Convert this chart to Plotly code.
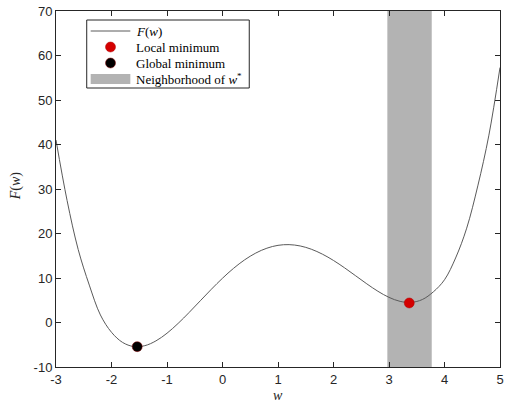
import plotly.graph_objects as go

# Sampled objective F(w) on a uniform grid
w_grid = [-3.0, -2.8, -2.6, -2.4, -2.2, -2.0, -1.8, -1.6, -1.4, -1.2, -1.0,
          -0.8, -0.6, -0.4, -0.2, 0.0, 0.2, 0.4, 0.6, 0.8, 1.0,
          1.2, 1.4, 1.6, 1.8, 2.0, 2.2, 2.4, 2.6, 2.8, 3.0,
          3.2, 3.4, 3.6, 3.8, 4.0, 4.2, 4.4, 4.6, 4.8, 5.0]
F_values = [41.0, 27.4, 16.4, 8.4, 1.7, -2.2, -4.48, -5.40, -5.21, -4.14, -2.41,
            -0.21, 2.27, 4.88, 7.48, 9.95, 12.18, 14.09, 15.61, 16.70, 17.34,
            17.50, 17.20, 16.47, 15.36, 13.94, 12.28, 10.49, 8.69, 7.02, 5.65,
            4.75, 4.52, 5.16, 6.90, 9.6, 14.5, 21.2, 30.7, 42.1, 57.3]

# Stationary points
local_min_w = [3.365]
local_min_F = [4.39]
global_min_w = [-1.537]
global_min_F = [-5.43]

# Neighborhood of w* (interval on the w axis)
neigh_lo, neigh_hi = 2.97, 3.77

x_range = [-3, 5]
y_range = [-10, 70]
x_ticks = [-3, -2, -1, 0, 1, 2, 3, 4, 5]
y_ticks = [-10, 0, 10, 20, 30, 40, 50, 60, 70]

legend_labels = ["<i>F</i>(<i>w</i>)", "Local minimum", "Global minimum",
                 "Neighborhood of <i>w</i><sup>*</sup>"]

axis_col = "#262626"
curve_col = "#5a5a5a"
local_col = "#d40000"
global_col = "#000000"
shade_col = "#b3b3b3"
serif = "Liberation Serif, DejaVu Serif, serif"
sans = "Liberation Sans, Arial, sans-serif"

W, H = 508, 404
ML, MR, MT, MB = 56, 4, 11, 37
PW, PH = W - ML - MR, H - MT - MB


def px_x(px):
    return (px - ML) / PW


def px_y(py):
    return (H - MB - py) / PH


fig = go.Figure()

fig.add_trace(go.Scatter(
    x=w_grid, y=F_values, mode="lines",
    line=dict(color=curve_col, width=1, shape="spline", smoothing=1),
    name=legend_labels[0], showlegend=False,
))
fig.add_trace(go.Scatter(
    x=local_min_w, y=local_min_F, mode="markers",
    marker=dict(color=local_col, size=10, line=dict(color="#b00000", width=0.5)),
    name=legend_labels[1], showlegend=False,
))
fig.add_trace(go.Scatter(
    x=global_min_w, y=global_min_F, mode="markers",
    marker=dict(color=global_col, size=10, line=dict(color="#8a0000", width=0.5)),
    name=legend_labels[2], showlegend=False,
))

shapes = [
    # shaded neighborhood band
    dict(type="rect", xref="x", yref="y", x0=neigh_lo, x1=neigh_hi,
         y0=y_range[0], y1=y_range[1], fillcolor=shade_col,
         line=dict(width=0), layer="below"),
]

# Legend box, drawn by hand to reproduce the compact layout
box_l, box_r, box_t, box_b = 87, 251, 20, 88
shapes.append(dict(type="rect", xref="paper", yref="paper",
                   x0=px_x(box_l), x1=px_x(box_r), y0=px_y(box_b), y1=px_y(box_t),
                   fillcolor="white", line=dict(color=axis_col, width=1)))
row_y = [31, 47, 63, 79]
icon_l, icon_r = 91, 131
icon_c = (icon_l + icon_r) / 2
shapes.append(dict(type="line", xref="paper", yref="paper",
                   x0=px_x(icon_l), x1=px_x(icon_r), y0=px_y(row_y[0]), y1=px_y(row_y[0]),
                   line=dict(color=curve_col, width=1)))
for yy, fc, lc in [(row_y[1], local_col, "#b00000"), (row_y[2], global_col, "#8a0000")]:
    shapes.append(dict(type="circle", xref="paper", yref="paper",
                       xsizemode="pixel", ysizemode="pixel",
                       xanchor=px_x(icon_c), yanchor=px_y(yy),
                       x0=-5, x1=5, y0=-5, y1=5,
                       fillcolor=fc, line=dict(color=lc, width=0.5)))
shapes.append(dict(type="rect", xref="paper", yref="paper",
                   x0=px_x(icon_l), x1=px_x(icon_r),
                   y0=px_y(row_y[3] + 5), y1=px_y(row_y[3] - 5),
                   fillcolor=shade_col, line=dict(width=0)))

annotations = []
for yy, txt in zip(row_y, legend_labels):
    annotations.append(dict(text=txt, xref="paper", yref="paper",
                            x=px_x(135), y=px_y(yy), xanchor="left", yanchor="middle",
                            showarrow=False,
                            font=dict(family=serif, size=13, color="#000000")))

# Axis titles
annotations.append(dict(text="<i>w</i>", xref="paper", yref="paper",
                        x=0.5, y=px_y(395), xanchor="center", yanchor="middle",
                        showarrow=False, font=dict(family=serif, size=14, color=axis_col)))
annotations.append(dict(text="<i>F</i>(<i>w</i>)", xref="paper", yref="paper",
                        x=px_x(16), y=px_y(186), xanchor="center", yanchor="middle",
                        showarrow=False, textangle=-90,
                        font=dict(family=serif, size=14, color=axis_col)))

axis_common = dict(
    showgrid=False, zeroline=False, showline=True, linecolor=axis_col,
    linewidth=1, mirror="ticks", ticks="inside", ticklen=5,
    tickcolor=axis_col, tickwidth=1,
    tickfont=dict(family=sans, size=13, color=axis_col),
)

fig.update_xaxes(range=x_range, tickvals=x_ticks,
                 ticktext=[str(v) for v in x_ticks], **axis_common)
fig.update_yaxes(range=y_range, tickvals=y_ticks,
                 ticktext=[str(v) for v in y_ticks], **axis_common)

fig.update_layout(
    width=W, height=H,
    margin=dict(l=ML, r=MR, t=MT, b=MB),
    paper_bgcolor="white", plot_bgcolor="white",
    showlegend=False,
    shapes=shapes,
    annotations=annotations,
)

fig.write_html("out.html")
